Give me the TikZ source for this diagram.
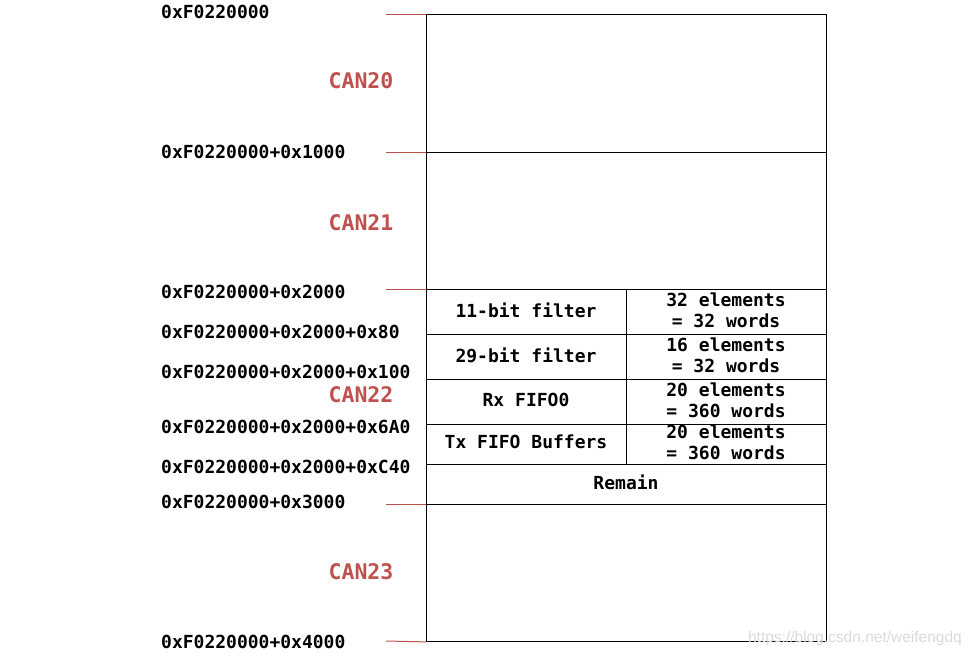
\documentclass[tikz,border=0pt]{standalone}
\usepackage{fontspec}
\setmonofont{DejaVu Sans Mono}
\setsansfont{Liberation Sans}
\definecolor{canred}{RGB}{192,80,77}
\definecolor{wm}{RGB}{218,218,218}
\begin{document}
\begin{tikzpicture}[x=1pt,y=-1pt,
  cell/.style={draw=black, line width=0.9pt, anchor=north west, inner sep=0pt},
  celltext/.style={font=\ttfamily\bfseries\fontsize{18}{21}\selectfont, align=center},
  addr/.style={anchor=west, inner sep=0pt, font=\ttfamily\bfseries\fontsize{18}{21}\selectfont},
  canlbl/.style={inner sep=0pt, text=canred, font=\ttfamily\bfseries\fontsize{21.5}{24}\selectfont},
  tick/.style={draw=canred, line width=1pt}]
\useasboundingbox (0,0) rectangle (971,657);
% big blocks
\node[cell, minimum width=400pt, minimum height=138pt] (b20) at (426,14) {};
\node[cell, minimum width=400pt, minimum height=137pt] (b21) at (426,152) {};
\node[cell, minimum width=400pt, minimum height=215pt] (b22) at (426,289) {};
\node[cell, minimum width=400pt, minimum height=137pt] (b23) at (426,504) {};
% CAN22 sub cells
\node[cell, minimum width=200pt, minimum height=45pt] (f11) at (426,289) {};
\node[cell, minimum width=200pt, minimum height=45pt] (f11n) at (626,289) {};
\node[cell, minimum width=200pt, minimum height=45pt] (f29) at (426,334) {};
\node[cell, minimum width=200pt, minimum height=45pt] (f29n) at (626,334) {};
\node[cell, minimum width=200pt, minimum height=45pt] (rx) at (426,379) {};
\node[cell, minimum width=200pt, minimum height=45pt] (rxn) at (626,379) {};
\node[cell, minimum width=200pt, minimum height=40pt] (tx) at (426,424) {};
\node[cell, minimum width=200pt, minimum height=40pt] (txn) at (626,424) {};
\node[cell, minimum width=400pt, minimum height=40pt] (rem) at (426,464) {};
% cell texts
\node[celltext] (t11) at (526,310) {11-bit filter};
\node[celltext] (t11n) at (726,310) {32 elements\\= 32 words};
\node[celltext] (t29) at (526,355) {29-bit filter};
\node[celltext] (t29n) at (726,355) {16 elements\\= 32 words};
\node[celltext] (trx) at (526,400) {Rx FIFO0};
\node[celltext] (trxn) at (726,400) {20 elements\\= 360 words};
\node[celltext] (ttx) at (526,442) {Tx FIFO Buffers};
\node[celltext] (ttxn) at (726,442) {20 elements\\= 360 words};
\node[celltext] (trem) at (626,482) {Remain};
% CAN labels
\node[canlbl] (l20) at (361,81) {CAN20};
\node[canlbl] (l21) at (361,223) {CAN21};
\node[canlbl] (l22) at (361,395) {CAN22};
\node[canlbl] (l23) at (361,572) {CAN23};
% addresses
\node[addr] (a0) at (161,12) {0xF0220000};
\node[addr] (a1) at (161,152) {0xF0220000+0x1000};
\node[addr] (a2) at (161,292) {0xF0220000+0x2000};
\node[addr] (a3) at (161,332) {0xF0220000+0x2000+0x80};
\node[addr] (a4) at (161,372) {0xF0220000+0x2000+0x100};
\node[addr] (a5) at (161,427) {0xF0220000+0x2000+0x6A0};
\node[addr] (a6) at (161,467) {0xF0220000+0x2000+0xC40};
\node[addr] (a7) at (161,502) {0xF0220000+0x3000};
\node[addr] (a8) at (161,642) {0xF0220000+0x4000};
% red ticks
\coordinate (k0) at (386,14);
\coordinate (k1) at (386,152);
\coordinate (k2) at (386,289);
\coordinate (k3) at (386,504);
\coordinate (k4) at (386,641);
\draw[tick] (k0) -- (b20.north west);
\draw[tick] (k1) -- (b21.north west);
\draw[tick] (k2) -- (b22.north west);
\draw[tick] (k3) -- (b23.north west);
\draw[tick] (k4) -- (b23.south west);
% watermark
\node[anchor=east, inner sep=0pt, text=wm, font=\sffamily\fontsize{15.5}{17}\selectfont] (wmk) at (962,638) {https://blog.csdn.net/weifengdq};
\end{tikzpicture}
\end{document}
